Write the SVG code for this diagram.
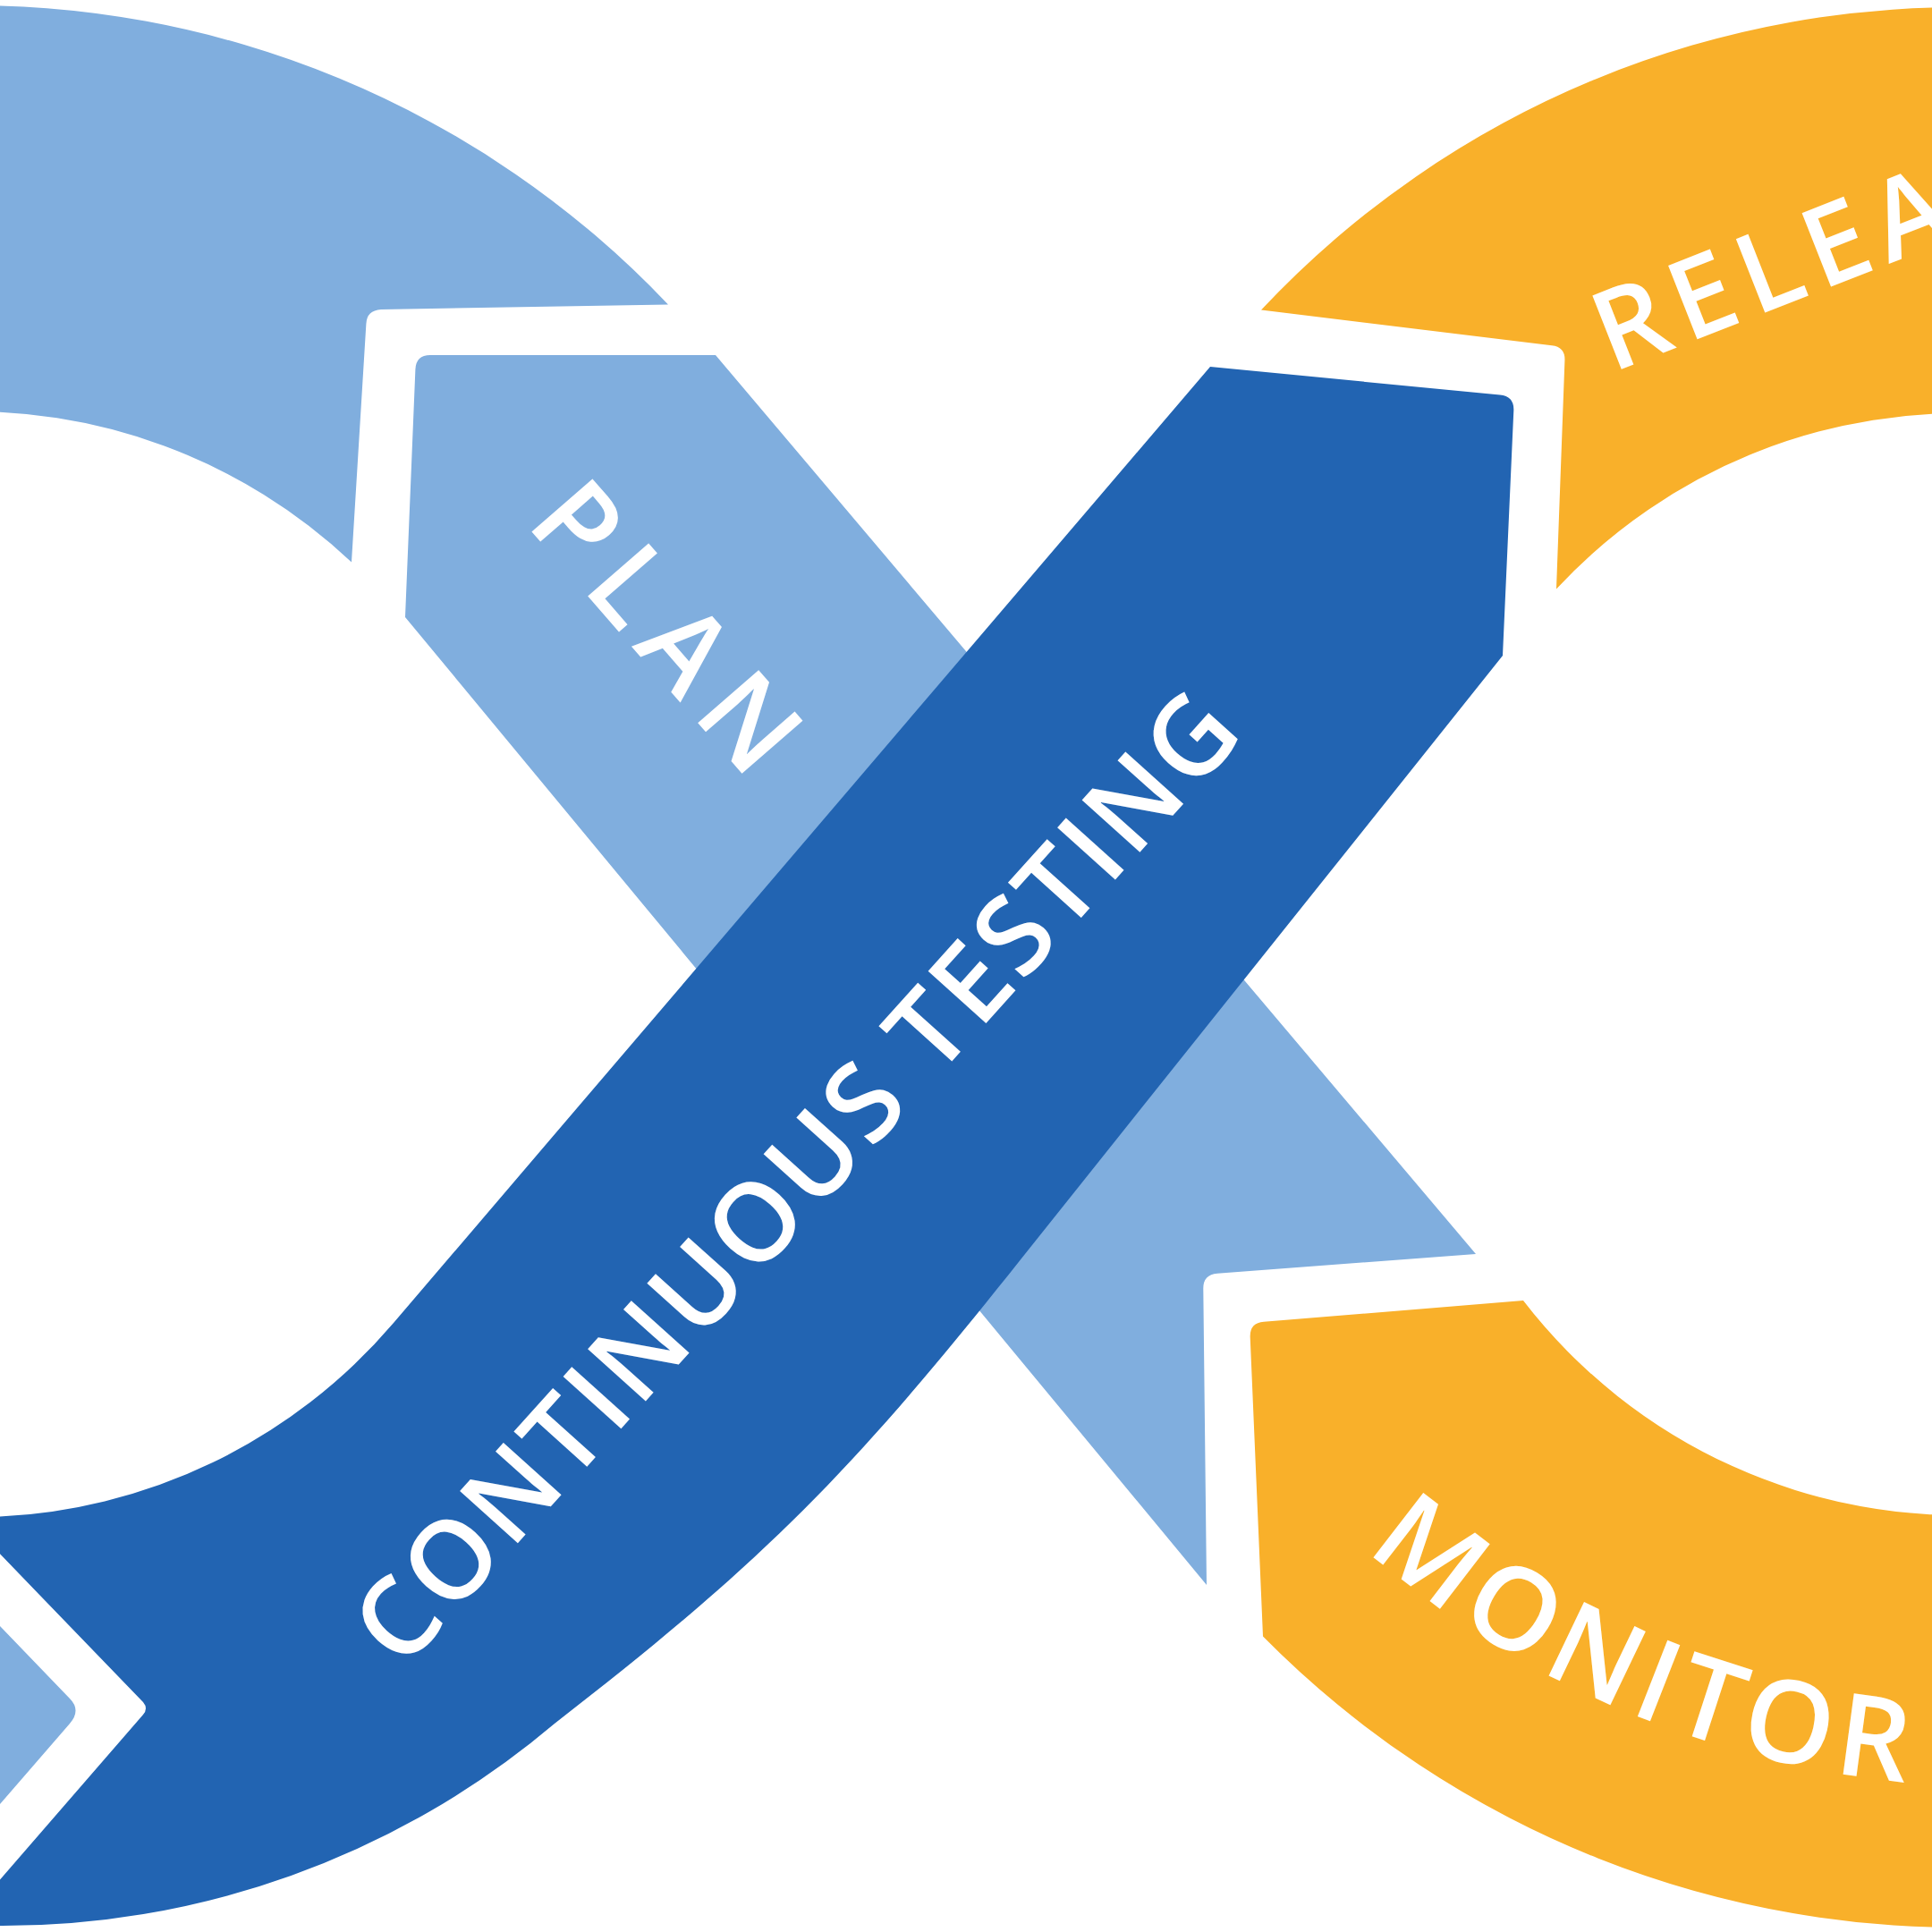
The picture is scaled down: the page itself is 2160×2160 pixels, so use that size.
<svg xmlns="http://www.w3.org/2000/svg" width="2160" height="2160" viewBox="0 0 2160 2160">
<style>
.lb{fill:#80AEDE}
.db{fill:#2264B2}
.or{fill:#F9B02A}
.lbl{font-family:"Open Sans","Liberation Sans",sans-serif;font-weight:600;fill:#FFFFFF}
</style>
<defs>
<path id="monArc" d="M 1298.4,1455.5 A 1085 1085 0 0 0 2609.1,1932.6" fill="none"/>
</defs>
<rect width="2160" height="2160" fill="#FFFFFF"/>
<g id="stage-top-left">
<path class="lb" d="M -60,6.4 A 1072 1072 0 0 1 747,340.5 L 426,346 Q 410,347 409.4,362 L 393,628.4 A 618 618 0 0 0 -60,460.7 Z"/>
</g>
<g id="plan">
<path class="lb" d="M 481,397 L 800,397 L 1650,1402 L 1361,1423.8 Q 1345,1425 1345.3,1441 L 1349,1772 L 453,690 L 464.4,413 Q 465,397 481,397 Z"/>
<text class="lbl" font-size="126" transform="translate(746,700) rotate(49)" x="9" y="45" text-anchor="middle" letter-spacing="18">PLAN</text>
</g>
<g id="stage-bottom-left">
<path class="lb" d="M -10,1807.6 L 78,1899 Q 91,1912 78,1927 L -10,2028.5 Z"/>
</g>
<g id="continuous-testing">
<path class="db" d="M 1353,410 L 1677,441.5 Q 1693,443 1692.3,459 L 1680,733 L 1140,1409.4 C 953,1645 855,1745 620,1927 A 955 955 0 0 1 -10,2153 L -10,2113 L 160,1917 Q 166,1910 160,1903 L -10,1727 L -10,1696 A 618 618 0 0 0 440,1479 Z"/>
<text class="lbl" font-size="122" transform="translate(889,1316) rotate(-48)" x="2" y="43.5" text-anchor="middle" letter-spacing="4">CONTINUOUS TESTING</text>
</g>
<g id="release">
<path class="or" d="M 1410,346.6 A 1070 1070 0 0 1 2230,8.7 L 2230,463.2 A 616 616 0 0 0 1740,658.4 L 1749.4,403 Q 1750,388 1735,386.3 Z"/>
<text class="lbl" font-size="124" transform="translate(1802,417) rotate(-21.5)" letter-spacing="12">RELEASE</text>
</g>
<g id="monitor">
<path class="or" d="M 1413,1477.7 L 1703,1454 A 616 616 0 0 0 2230,1692.8 L 2230,2154.3 A 1095 1095 0 0 1 1412,1829.5 L 1397.7,1495 Q 1397,1479 1413,1477.7 Z"/>
<text class="lbl" font-size="128" letter-spacing="9"><textPath href="#monArc" startOffset="361">MONITOR</textPath></text>
</g>
</svg>
